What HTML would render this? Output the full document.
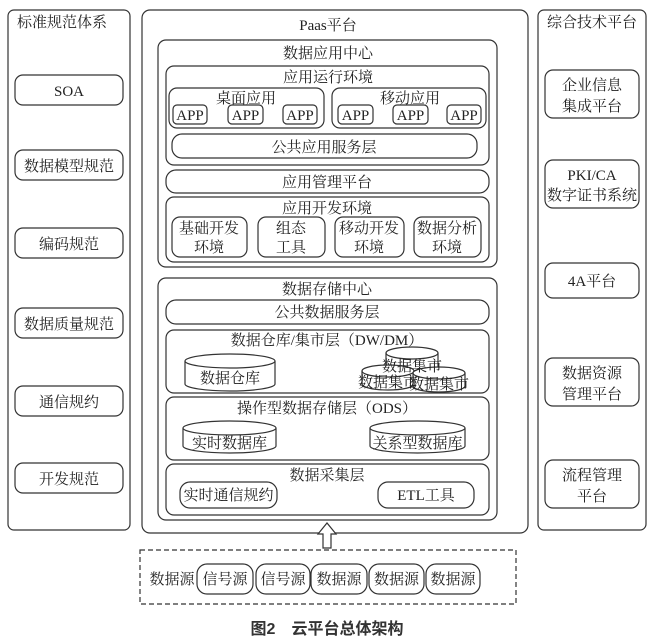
<!DOCTYPE html>
<html><head><meta charset="utf-8"><style>
html,body{margin:0;padding:0;background:#fff;width:654px;height:644px;overflow:hidden}
svg text{font-family:"Liberation Serif","Noto Serif CJK SC",serif;font-size:15px;fill:#222}
</style></head><body>
<svg width="654" height="644" viewBox="0 0 654 644" xmlns="http://www.w3.org/2000/svg">
<g fill="#fff" stroke="#333" stroke-width="1.2">
<rect x="8" y="10" width="122" height="520" rx="6"/>
<rect x="15" y="75" width="108" height="30" rx="8"/>
<rect x="15" y="150" width="108" height="30" rx="8"/>
<rect x="15" y="228" width="108" height="30" rx="8"/>
<rect x="15" y="308" width="108" height="30" rx="8"/>
<rect x="15" y="386" width="108" height="30" rx="8"/>
<rect x="15" y="463" width="108" height="30" rx="8"/>
<rect x="538" y="10" width="108" height="520" rx="6"/>
<rect x="545" y="70" width="94" height="48" rx="8"/>
<rect x="545" y="160" width="94" height="48" rx="8"/>
<rect x="545" y="263" width="94" height="35" rx="8"/>
<rect x="545" y="358" width="94" height="48" rx="8"/>
<rect x="545" y="460" width="94" height="48" rx="8"/>
<rect x="142" y="10" width="386" height="523" rx="8"/>
<rect x="158" y="40" width="339" height="227" rx="8"/>
<rect x="166" y="66" width="323" height="99" rx="8"/>
<rect x="169" y="88" width="155" height="40" rx="8"/>
<rect x="332" y="88" width="154" height="40" rx="8"/>
<rect x="173" y="105" width="34" height="19" rx="4"/>
<rect x="228" y="105" width="35" height="19" rx="4"/>
<rect x="283" y="105" width="34" height="19" rx="4"/>
<rect x="338" y="105" width="35" height="19" rx="4"/>
<rect x="393" y="105" width="35" height="19" rx="4"/>
<rect x="447" y="105" width="34" height="19" rx="4"/>
<rect x="172" y="134" width="305" height="24" rx="10"/>
<rect x="166" y="170" width="323" height="23" rx="10"/>
<rect x="166" y="197" width="323" height="65" rx="8"/>
<rect x="172" y="217" width="75" height="40" rx="8"/>
<rect x="258" y="217" width="67" height="40" rx="8"/>
<rect x="335" y="217" width="69" height="40" rx="8"/>
<rect x="414" y="217" width="67" height="40" rx="8"/>
<rect x="158" y="278" width="339" height="242" rx="8"/>
<rect x="166" y="300" width="323" height="24" rx="10"/>
<rect x="166" y="330" width="323" height="63" rx="8"/>
<rect x="166" y="397" width="323" height="63" rx="8"/>
<rect x="166" y="464" width="323" height="51" rx="8"/>
<rect x="180" y="482" width="97" height="26" rx="10"/>
<rect x="378" y="482" width="96" height="26" rx="10"/>
</g>
<g fill="#fff" stroke="#333" stroke-width="1.2">
<path d="M185 361 V384 A45 7 0 0 0 275 384 V361"/><ellipse cx="230" cy="361" rx="45" ry="7"/>
<path d="M183 428 V446 A46.5 7 0 0 0 276 446 V428"/><ellipse cx="229.5" cy="428" rx="46.5" ry="7"/>
<path d="M370 428 V446 A47.5 7 0 0 0 465 446 V428"/><ellipse cx="417.5" cy="428" rx="47.5" ry="7"/>
<path d="M386 353 V367 A26 6 0 0 0 438 367 V353"/><ellipse cx="412" cy="353" rx="26" ry="6"/>
<path d="M362 371 V384 A26 6 0 0 0 414 384 V371"/><ellipse cx="388" cy="371" rx="26" ry="6"/>
<path d="M413 373 V386 A26 6 0 0 0 465 386 V373"/><ellipse cx="439" cy="373" rx="26" ry="6"/>
</g>
<path d="M323 548 V534 H318 L327 523 L336 534 H331 V548 Z" fill="#fff" stroke="#333" stroke-width="1.2"/>
<rect x="140" y="550" width="376" height="54" fill="none" stroke="#333" stroke-width="1.2" stroke-dasharray="5,3"/>
<g fill="#fff" stroke="#333" stroke-width="1.2">
<rect x="197" y="564" width="56" height="30" rx="10"/>
<rect x="256" y="564" width="54" height="30" rx="10"/>
<rect x="311" y="564" width="56" height="30" rx="10"/>
<rect x="369" y="564" width="55" height="30" rx="10"/>
<rect x="426" y="564" width="54" height="30" rx="10"/>
</g>
<g text-anchor="middle">
<text x="62" y="27">标准规范体系</text>
<text x="69" y="96">SOA</text>
<text x="69" y="171">数据模型规范</text>
<text x="69" y="249">编码规范</text>
<text x="69" y="329">数据质量规范</text>
<text x="69" y="407">通信规约</text>
<text x="69" y="484">开发规范</text>
<text x="592" y="27">综合技术平台</text>
<text x="592" y="90">企业信息</text><text x="592" y="111">集成平台</text>
<text x="592" y="180">PKI/CA</text><text x="592" y="200">数字证书系统</text>
<text x="592" y="286">4A平台</text>
<text x="592" y="378">数据资源</text><text x="592" y="399">管理平台</text>
<text x="592" y="480">流程管理</text><text x="592" y="501">平台</text>
<text x="328" y="30">Paas平台</text>
<text x="328" y="58">数据应用中心</text>
<text x="328" y="82">应用运行环境</text>
<text x="246" y="103">桌面应用</text>
<text x="410" y="103">移动应用</text>
<g style="font-size:14px">
<text x="190" y="120" font-size="14">APP</text><text x="245.5" y="120" font-size="14">APP</text><text x="300" y="120" font-size="14">APP</text>
<text x="355.5" y="120" font-size="14">APP</text><text x="410.5" y="120" font-size="14">APP</text><text x="464" y="120" font-size="14">APP</text>
</g>
<text x="324" y="152">公共应用服务层</text>
<text x="327" y="187">应用管理平台</text>
<text x="327" y="213">应用开发环境</text>
<text x="209" y="233">基础开发</text><text x="209" y="252">环境</text>
<text x="291" y="233">组态</text><text x="291" y="252">工具</text>
<text x="369" y="233">移动开发</text><text x="369" y="252">环境</text>
<text x="447" y="233">数据分析</text><text x="447" y="252">环境</text>
<text x="327" y="294">数据存储中心</text>
<text x="327" y="317">公共数据服务层</text>
<text x="327" y="345">数据仓库/集市层（DW/DM）</text>
<text x="230" y="383">数据仓库</text>
<text x="412" y="371" font-size="13">数据集市</text>
<text x="388" y="387" font-size="13">数据集市</text>
<text x="439" y="389" font-size="13">数据集市</text>
<text x="327" y="413">操作型数据存储层（ODS）</text>
<text x="229.5" y="448">实时数据库</text>
<text x="417.5" y="448">关系型数据库</text>
<text x="327" y="480">数据采集层</text>
<text x="228.5" y="500">实时通信规约</text>
<text x="426" y="500">ETL工具</text>
<text x="172" y="584">数据源</text>
<text x="225" y="584">信号源</text><text x="283" y="584">信号源</text><text x="339" y="584">数据源</text>
<text x="396.5" y="584">数据源</text><text x="453" y="584">数据源</text>
<text x="327" y="634" style="font-family:'Liberation Sans','Noto Sans CJK SC',sans-serif;font-size:16px;font-weight:600;fill:#333">图2　云平台总体架构</text>
</g>
</svg>
</body></html>
